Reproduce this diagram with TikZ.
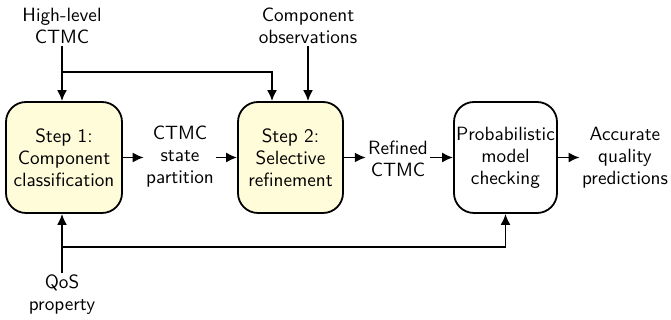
\documentclass[tikz,border=0pt]{standalone}
\usetikzlibrary{arrows.meta,calc}
\definecolor{stepfill}{RGB}{255,252,218}
\begin{document}
\begin{tikzpicture}[x=0.5pt,y=-0.5pt,
  font=\sffamily\fontsize{9.6}{11}\selectfont,
  every node/.style={align=center},
  stepbox/.style={draw,line width=0.9pt,rounded corners=10pt,minimum height=55.5pt,inner sep=1pt},
  lbl/.style={inner sep=1pt},
  arr/.style={line width=0.9pt,-{Latex[length=5.5pt,width=5pt]}},
  ln/.style={line width=0.9pt}]
\useasboundingbox (0,0) rectangle (671,320);
\node[stepbox,fill=stepfill,minimum width=58pt] (b1) at (64,157.5) {Step 1:\\Component\\classification};
\node[stepbox,fill=stepfill,minimum width=52.5pt] (b2) at (290.5,157.5) {Step 2:\\Selective\\refinement};
\node[stepbox,minimum width=51.5pt] (b3) at (505.5,157.5) {Probabilistic\\model\\checking};
\node[lbl] (hl) at (62,26) {High-level\\CTMC};
\node[lbl] (obs) at (308,26) {Component\\observations};
\node[lbl] (part) at (180,157) {CTMC\\state\\partition};
\node[lbl] (ref) at (398,159) {Refined\\CTMC};
\node[lbl] (acc) at (625,158) {Accurate\\quality\\predictions};
\node[lbl] (qos) at (62,295) {QoS\\property};
\coordinate (j1) at (62,72);
\coordinate (j2) at (62,247);
\coordinate (t2) at (272,72);
\draw[arr] (hl.south) -- (hl.south |- b1.north);
\draw[arr] (j1) -- (t2) -- (t2 |- b2.north);
\draw[arr] (obs.south) -- (obs.south |- b2.north);
\draw[arr] (b1.east) -- (part.west |- b1.east);
\draw[arr] (part.east |- b2.west) -- (b2.west);
\draw[arr] (b2.east) -- (ref.west |- b2.east);
\draw[arr] (ref.east |- b3.west) -- (b3.west);
\draw[arr] (b3.east) -- (acc.west |- b3.east);
\draw[arr] (qos.north) -- (qos.north |- b1.south);
\draw[arr] (j2) -| (b3.south);
\end{tikzpicture}
\end{document}
